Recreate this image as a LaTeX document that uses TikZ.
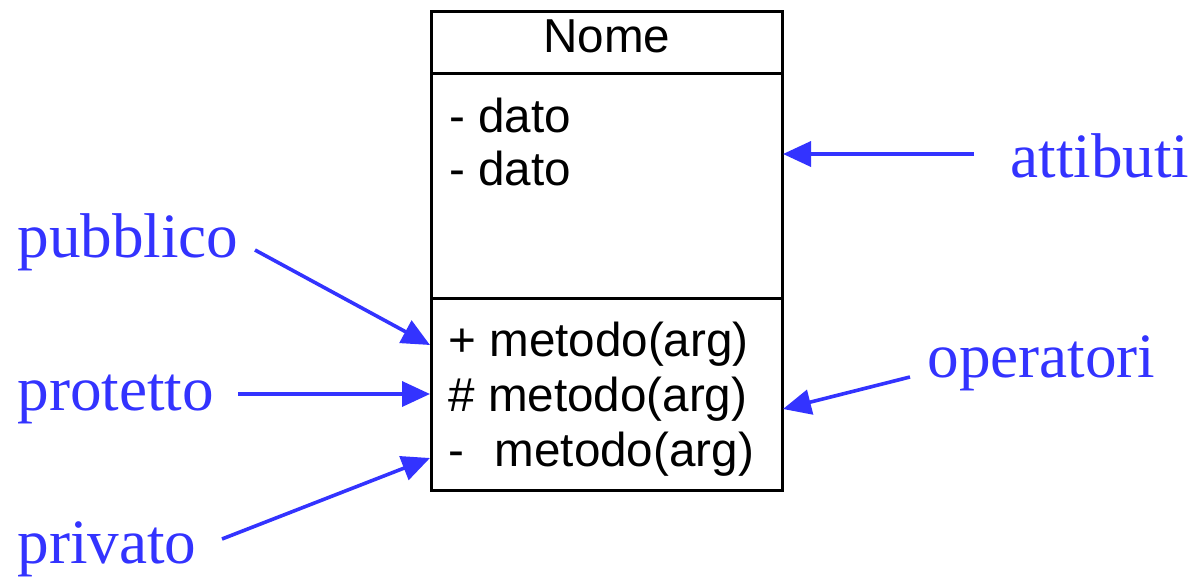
\documentclass[tikz,border=0pt]{standalone}
\usepackage{fontspec}
\setmainfont{Liberation Serif}
\newfontfamily\umlfont{Liberation Sans}
\usetikzlibrary{arrows.meta}
\definecolor{labelblue}{RGB}{51,51,255}
\begin{document}
\begin{tikzpicture}[x=0.5pt,y=-0.5pt,
  compartment/.style={draw, line width=1.5pt, inner sep=0pt, minimum width=175.5pt},
  member/.style={anchor=base west, inner sep=0pt, font=\umlfont\fontsize{23.8}{28}\selectfont},
  tag/.style={anchor=base west, inner sep=0pt, text=labelblue, font=\fontsize{31.6}{38}\selectfont},
  pointer/.style={draw=labelblue, line width=1.8pt, -{Triangle[length=14pt,width=12.5pt]}}]
\useasboundingbox (0,0) rectangle (1196,579);

% class box: name, attributes, operations
\node[compartment, minimum height=31pt]   (head)  at (606.5,42)    {};
\node[compartment, minimum height=112.5pt] (attrs) at (606.5,185.5) {};
\node[compartment, minimum height=96pt]    (ops)   at (606.5,394)   {};

\node[member, anchor=base] (title) at (607,52) {Nome};
\node[member] (a1) at (449,132) {- dato};
\node[member] (a2) at (449,185) {- dato};
\node[member] (m1) at (448,356) {+ metodo(arg)};
\node[member] (m2) at (448,411) {\# metodo(arg)};
\node[member] (m3) at (448,466) {-\hspace{0.64em}metodo(arg)};

% side labels
\node[tag] (pubblico)  at (17,257)   {pubblico};
\node[tag] (protetto)  at (17,410)   {protetto};
\node[tag] (privato)   at (17,563)   {privato};
\node[tag] (attibuti)  at (1010,177) {attibuti};
\node[tag] (operatori) at (927,377)  {operatori};

% arrow ends
\coordinate (pub-tail) at (255,250);
\coordinate (pub-tip)  at (430,345);
\coordinate (pro-tail) at (238,394);
\coordinate (pro-tip)  at (430,394);
\coordinate (pri-tail) at (222,539);
\coordinate (pri-tip)  at (430,458);
\coordinate (att-tail) at (974,154);
\coordinate (att-tip)  at (783,154);
\coordinate (ope-tail) at (910,377);
\coordinate (ope-tip)  at (783,409);

\draw[pointer] (pub-tail) -- (pub-tip);
\draw[pointer] (pro-tail) -- (pro-tip);
\draw[pointer] (pri-tail) -- (pri-tip);
\draw[pointer] (att-tail) -- (att-tip);
\draw[pointer] (ope-tail) -- (ope-tip);
\end{tikzpicture}
\end{document}
